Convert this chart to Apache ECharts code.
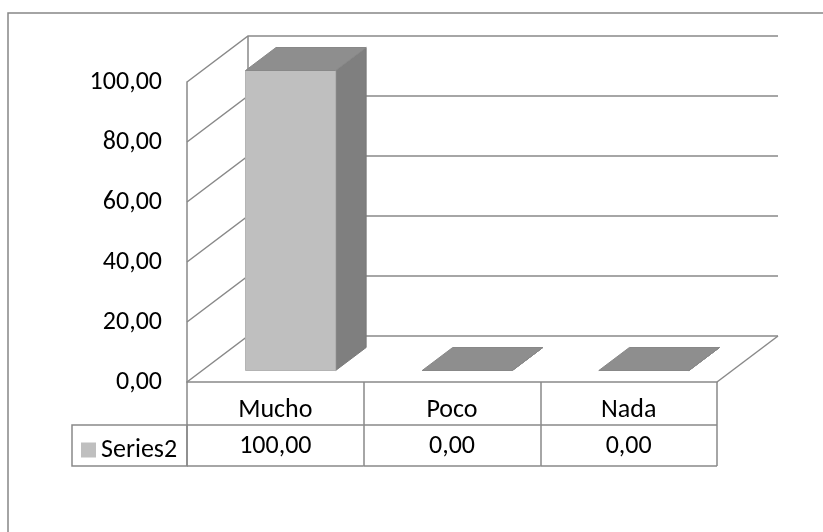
<!DOCTYPE html>
<html>
<head>
<meta charset="utf-8">
<script src="https://cdn.jsdelivr.net/npm/echarts@6/dist/echarts.min.js"></script>
<style>
html,body{margin:0;padding:0;background:#fff;}
#chart{width:823px;height:532px;}
</style>
</head>
<body>
<div id="chart"></div>
<script>
// ---- data ----
const categories = ['Mucho', 'Poco', 'Nada'];
const seriesName = 'Series2';
const values = [100, 0, 0];
const yTicks = [0, 20, 40, 60, 80, 100];

// ---- style constants ----
const FONT = 'Carlito, Lato, sans-serif';
const FS = 26;
const LINE = '#898989';
const DX = 61, DY = -46;          // depth offset of the walls
const ZF = 0.25, ZB = 0.75;       // bar depth fractions
const BAR_RATIO = 0.51;
const ROW1 = 43, ROW2 = 41;       // data table row heights
const LEGEND_CELL_W = 115;

const fmt = v => v.toFixed(2).replace('.', ',');

const chart = echarts.init(document.getElementById('chart'), null, {renderer: 'canvas'});

function wallsItem(params, api) {
  const v = api.value(1);
  const cs = params.coordSys;
  const x0 = cs.x, x1 = cs.x + cs.width;
  const y = api.coord([0, v])[1];
  const style = {stroke: LINE, lineWidth: 1.5, fill: null};
  const children = [{
    type: 'polyline',
    shape: {points: [[x0, y], [x0 + DX, y + DY], [x1 + DX, y + DY]]},
    style: style
  }];
  if (v === yTicks[0]) {
    children.push({type: 'line', shape: {x1: x1, y1: y, x2: x1 + DX, y2: y + DY}, style: style});
  }
  if (v === yTicks[yTicks.length - 1]) {
    const yb = api.coord([0, yTicks[0]])[1];
    children.push({type: 'line', shape: {x1: x0 + DX, y1: y + DY, x2: x0 + DX, y2: yb + DY}, style: style});
  }
  return {type: 'group', children: children};
}

function barItem(params, api) {
  const idx = api.value(0);
  const v = api.value(1);
  const base = api.coord([idx, 0]);
  const top = api.coord([idx, v]);
  const w = api.size([1, 0])[0] * BAR_RATIO;
  const xl = base[0] - w / 2, xr = base[0] + w / 2;
  const fx = DX * ZF, fy = DY * ZF, bx = DX * ZB, by = DY * ZB;
  const yt = top[1], yb = base[1];
  const children = [];
  children.push({
    type: 'polygon',
    shape: {points: [[xr + fx, yt + fy], [xr + bx, yt + by], [xr + bx, yb + by], [xr + fx, yb + fy]]},
    style: {fill: '#7f7f7f', stroke: '#7a7a7a', lineWidth: 1}
  });
  children.push({
    type: 'rect',
    shape: {x: xl + fx, y: yt + fy, width: w, height: yb - yt},
    style: {fill: '#bfbfbf', stroke: '#b3b3b3', lineWidth: 1}
  });
  children.push({
    type: 'polygon',
    shape: {points: [[xl + fx, yt + fy], [xr + fx, yt + fy], [xr + bx, yt + by], [xl + bx, yt + by]]},
    style: {fill: '#8e8e8e', stroke: '#888888', lineWidth: 1}
  });
  return {type: 'group', children: children};
}

function tableItem(params, api) {
  const idx = api.value(0);
  const v = api.value(1);
  const base = api.coord([idx, 0]);
  const bw = api.size([1, 0])[0];
  const cs = params.coordSys;
  const yTop = cs.y + cs.height;
  const yMid = yTop + ROW1;
  const yBot = yMid + ROW2;
  const style = {stroke: LINE, lineWidth: 1.5, fill: null};
  const children = [
    {type: 'line', shape: {x1: base[0] - bw / 2, y1: yMid, x2: base[0] + bw / 2, y2: yMid}, style: style},
    {type: 'line', shape: {x1: base[0] - bw / 2, y1: yBot, x2: base[0] + bw / 2, y2: yBot}, style: style},
    {type: 'text', style: {
      text: fmt(v), x: base[0], y: yMid + ROW2 / 2 + 1,
      align: 'center', verticalAlign: 'middle',
      font: FS + 'px ' + FONT, fill: '#000'
    }}
  ];
  if (idx === 0) {
    children.push({type: 'rect',
      shape: {x: cs.x - LEGEND_CELL_W, y: yMid, width: LEGEND_CELL_W, height: ROW2},
      style: style});
  }
  return {type: 'group', children: children};
}

const option = {
  animation: false,
  backgroundColor: '#fff',
  grid: {left: 187, right: 106, top: 82, bottom: 150, containLabel: false},
  legend: {
    data: [seriesName],
    left: 81, top: 437, padding: 0,
    icon: 'rect', itemWidth: 15, itemHeight: 15,
    selectedMode: false,
    textStyle: {fontFamily: FONT, fontSize: FS, color: '#000', lineHeight: 15}
  },
  xAxis: {
    type: 'category',
    data: categories,
    boundaryGap: true,
    axisLine: {show: true, lineStyle: {color: LINE, width: 1.5}},
    axisTick: {show: true, interval: 0, length: ROW1 + ROW2, lineStyle: {color: LINE, width: 1.5}},
    axisLabel: {margin: 15, fontFamily: FONT, fontSize: FS, color: '#000', interval: 0},
    splitLine: {show: false}
  },
  yAxis: {
    type: 'value',
    min: 0, max: 100, interval: 20,
    axisLine: {show: true, lineStyle: {color: LINE, width: 1.5}},
    axisTick: {show: false},
    splitLine: {show: false},
    axisLabel: {
      margin: 25, fontFamily: FONT, fontSize: FS, color: '#000',
      padding: [7, 0, 0, 0],
      formatter: v => fmt(v)
    }
  },
  graphic: [{
    type: 'rect', silent: true, z: 0,
    shape: {x: 8, y: 13, width: 900, height: 700},
    style: {fill: null, stroke: '#868686', lineWidth: 1.5}
  }],
  series: [
    {
      type: 'custom', name: 'walls', silent: true, clip: false, z: 1,
      renderItem: wallsItem,
      encode: {x: 0, y: 1},
      data: yTicks.map(t => [0, t])
    },
    {
      type: 'custom', name: 'table', silent: true, clip: false, z: 2,
      renderItem: tableItem,
      encode: {x: 0, y: 1},
      data: values.map((v, i) => [i, v])
    },
    {
      type: 'custom', name: seriesName, silent: true, clip: false, z: 3,
      itemStyle: {color: '#bfbfbf'},
      renderItem: barItem,
      encode: {x: 0, y: 1},
      data: values.map((v, i) => [i, v])
    }
  ]
};
chart.setOption(option);
</script>
</body>
</html>
